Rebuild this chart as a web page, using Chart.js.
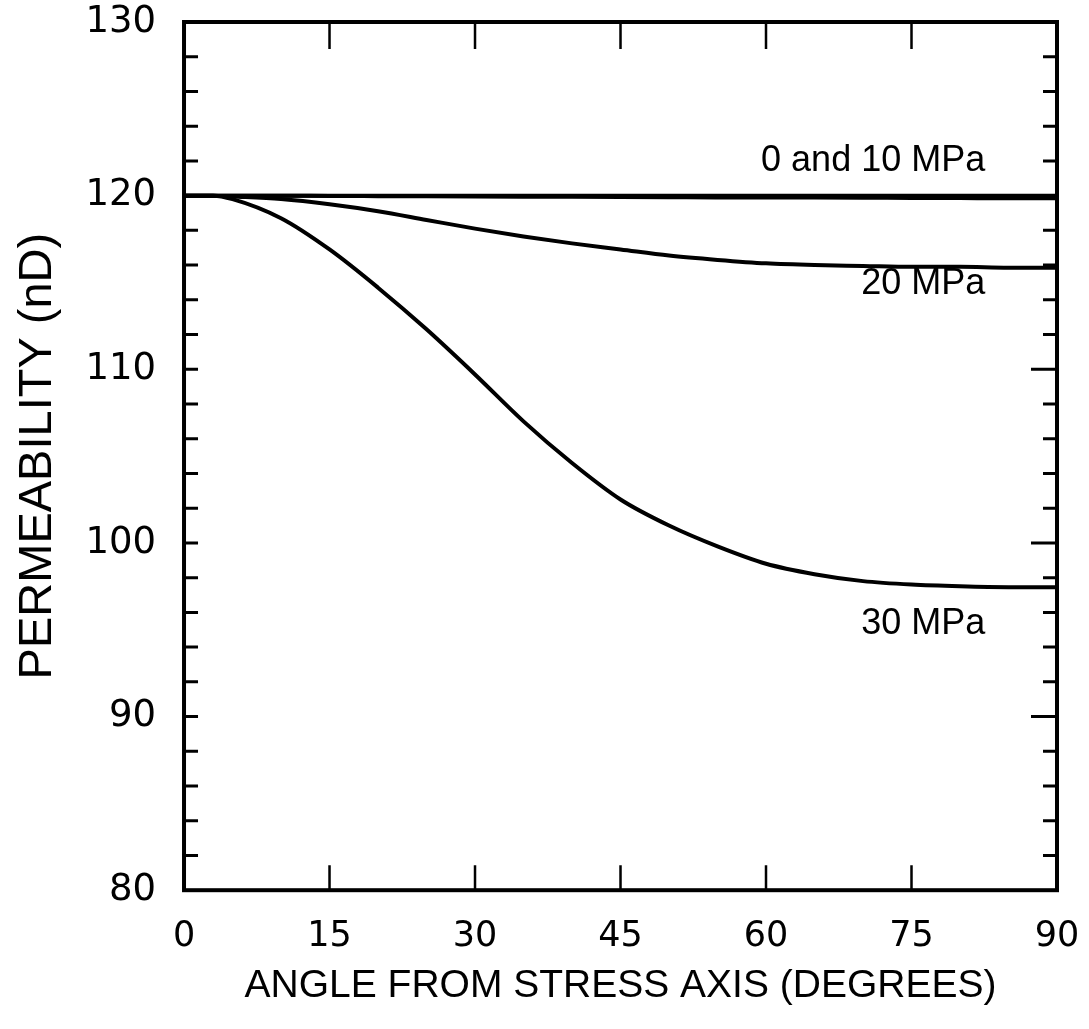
<!DOCTYPE html>
<html>
<head>
<meta charset="utf-8">
<script src="https://cdn.jsdelivr.net/npm/chart.js@4"></script>
<style>
  html, body { margin: 0; padding: 0; background: #fff; }
  #wrap { width: 1089px; height: 1029px; }
</style>
</head>
<body>
<div id="wrap"><canvas id="permChart"></canvas></div>
<script>
// angle from stress axis (degrees)
const angles = [0, 3, 5, 10, 15, 20, 25, 30, 35, 40, 45, 50, 55, 60, 65, 70, 75, 80, 85, 90];
// permeability (nD)
const perm0 = [120, 120, 120, 120, 120, 120, 120, 120, 120, 120, 120, 120, 120, 120, 120, 120, 120, 120, 120, 120];
const perm10 = [120, 120, 120, 120, 119.98, 119.97, 119.96, 119.95, 119.94, 119.93, 119.92, 119.91, 119.9, 119.9, 119.89, 119.88, 119.87, 119.86, 119.85, 119.85];
const perm20 = [120, 120, 119.95, 119.8, 119.5, 119.1, 118.6, 118.1, 117.65, 117.25, 116.9, 116.55, 116.3, 116.1, 116.0, 115.95, 115.9, 115.9, 115.85, 115.85];
const perm30 = [120, 120, 119.8, 118.7, 116.9, 114.7, 112.3, 109.7, 107.0, 104.6, 102.5, 101.0, 99.8, 98.8, 98.2, 97.8, 97.6, 97.5, 97.45, 97.45];

const xTicks = [0, 15, 30, 45, 60, 75, 90];
const yTicks = [80, 90, 100, 110, 120, 130];

// curve labels: text, angle, permeability
const curveNames = ['0 and 10 MPa', '20 MPa', '30 MPa'];
const curveNameAngles = [82.6, 82.6, 82.6];
const curveNameValues = [122.0, 114.9, 95.3];

function pts(ys) {
  return angles.map((a, i) => ({ x: a, y: ys[i] }));
}

function series(ys, w) {
  return {
    data: pts(ys),
    borderColor: '#000',
    borderWidth: w,
    pointRadius: 0,
    fill: false,
    cubicInterpolationMode: 'monotone'
  };
}

// frame, inside ticks and curve labels
const framePlugin = {
  id: 'frame',
  afterDatasetsDraw(chart) {
    const ctx = chart.ctx;
    const a = chart.chartArea;
    const xs = chart.scales.x;
    const ys = chart.scales.y;
    ctx.save();
    ctx.strokeStyle = '#000';
    ctx.lineCap = 'butt';

    // y ticks every 2 nD, both sides
    ctx.lineWidth = 3;
    for (let v = 82; v < 130; v += 2) {
      const py = ys.getPixelForValue(v);
      const major = v % 10 === 0;
      ctx.beginPath();
      ctx.moveTo(a.left, py);
      ctx.lineTo(a.left + 14, py);
      ctx.moveTo(a.right, py);
      ctx.lineTo(a.right - (major ? 26 : 14), py);
      ctx.stroke();
    }

    // x ticks, top and bottom
    ctx.lineWidth = 2.5;
    xTicks.slice(1, -1).forEach(v => {
      const px = xs.getPixelForValue(v);
      ctx.beginPath();
      ctx.moveTo(px, a.bottom);
      ctx.lineTo(px, a.bottom - 25);
      ctx.moveTo(px, a.top);
      ctx.lineTo(px, a.top + 27);
      ctx.stroke();
    });

    // box
    ctx.lineWidth = 4;
    ctx.strokeRect(a.left, a.top, a.right - a.left, a.bottom - a.top);

    // curve names
    ctx.fillStyle = '#000';
    ctx.font = '36px "Liberation Sans", Arial, sans-serif';
    ctx.textAlign = 'right';
    ctx.textBaseline = 'middle';
    curveNames.forEach((t, i) => {
      ctx.fillText(t, xs.getPixelForValue(curveNameAngles[i]), ys.getPixelForValue(curveNameValues[i]));
    });
    ctx.restore();
  }
};

new Chart(document.getElementById('permChart'), {
  type: 'line',
  data: {
    datasets: [
      series(perm0, 4),
      series(perm10, 4),
      series(perm20, 4),
      series(perm30, 4)
    ]
  },
  options: {
    responsive: true,
    maintainAspectRatio: false,
    animation: false,
    layout: { padding: { top: 22, right: 32, left: 10, bottom: 19 } },
    plugins: { legend: { display: false }, tooltip: { enabled: false } },
    scales: {
      x: {
        type: 'linear',
        min: 0,
        max: 90,
        afterBuildTicks: s => { s.ticks = xTicks.map(v => ({ value: v })); },
        afterFit: s => { s.paddingLeft = 0; s.paddingRight = 0; },
        grid: { display: false, drawTicks: false },
        border: { display: false },
        ticks: {
          color: '#000',
          padding: 26,
          maxRotation: 0,
          font: { family: '"DejaVu Sans", sans-serif', size: 35 }
        },
        title: {
          display: true,
          text: 'ANGLE FROM STRESS AXIS (DEGREES)',
          color: '#000',
          padding: { top: -21, bottom: 0 },
          font: { family: '"Liberation Sans", Arial, sans-serif', size: 39 }
        }
      },
      y: {
        type: 'linear',
        min: 80,
        max: 130,
        afterBuildTicks: s => { s.ticks = yTicks.map(v => ({ value: v })); },
        afterFit: s => { s.paddingTop = 0; s.paddingBottom = 0; },
        grid: { display: false, drawTicks: false },
        border: { display: false },
        ticks: {
          color: '#000',
          padding: 28,
          font: { family: '"DejaVu Sans", sans-serif', size: 37 }
        },
        title: {
          display: true,
          text: 'PERMEABILITY (nD)',
          color: '#000',
          padding: { top: 0, bottom: -9 },
          font: { family: '"Liberation Sans", Arial, sans-serif', size: 47 }
        }
      }
    }
  },
  plugins: [framePlugin]
});
</script>
</body>
</html>
